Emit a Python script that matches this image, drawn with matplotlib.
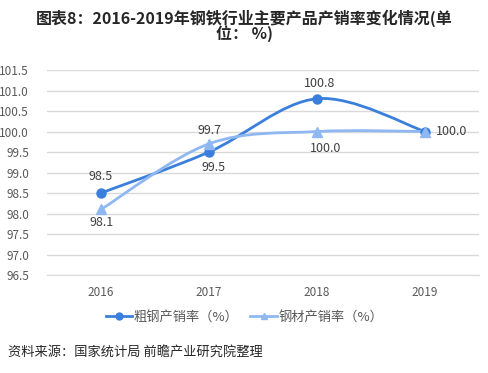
import numpy as np
import matplotlib
matplotlib.use('Agg')
import matplotlib.pyplot as plt
from matplotlib.path import Path
from matplotlib.patches import PathPatch
from matplotlib.lines import Line2D

plt.rcParams['font.family'] = ['Noto Sans CJK SC', 'DejaVu Sans']

years = ['2016', '2017', '2018', '2019']
crude_steel = [98.5, 99.5, 100.8, 100.0]
steel_products = [98.1, 99.7, 100.0, 100.0]
legend_labels = ['粗钢产销率（%）', '钢材产销率（%）']
title = '图表8：2016-2019年钢铁行业主要产品产销率变化情况(单\n位： %)'
source = '资料来源：国家统计局 前瞻产业研究院整理'

DARK = '#3b7fdc'
LIGHT = '#8fb8f2'
TEXT = '#404040'


def smooth_path(xs, ys):
    '''Bezier path through the points, Excel-like smoothing'''
    pts = np.column_stack([xs, ys]).astype(float)
    n = len(pts)
    verts = [pts[0]]
    codes = [Path.MOVETO]
    for i in range(n - 1):
        p0 = pts[max(i - 1, 0)]
        p1 = pts[i]
        p2 = pts[i + 1]
        p3 = pts[min(i + 2, n - 1)]
        c1 = p1 + (p2 - p0) / 6
        c2 = p2 - (p3 - p1) / 6
        verts += [c1, c2, p2]
        codes += [Path.CURVE4] * 3
    return Path(verts, codes)


fig = plt.figure(figsize=(4.89, 3.73), dpi=100)
ax = fig.add_axes([0.0961, 0.2627, 0.8835, 0.5496])

x = np.arange(len(years))
for vals, color, marker, ms in [(crude_steel, DARK, 'o', 6.5),
                                (steel_products, LIGHT, '^', 7)]:
    ax.add_patch(PathPatch(smooth_path(x, vals), facecolor='none',
                           edgecolor=color, lw=2, zorder=3))
    ax.plot(x, vals, linestyle='none', marker=marker, ms=ms,
            color=color, zorder=4)

lab = dict(textcoords='offset pixels', ha='center', va='center',
           fontsize=9, color=TEXT)
ax.annotate(f'{crude_steel[0]:.1f}', (0, crude_steel[0]), xytext=(0, 17), **lab)
ax.annotate(f'{crude_steel[1]:.1f}', (1, crude_steel[1]), xytext=(5, -15), **lab)
ax.annotate(f'{crude_steel[2]:.1f}', (2, crude_steel[2]), xytext=(3, 15), **lab)
ax.annotate(f'{crude_steel[3]:.1f}', (3, crude_steel[3]), xytext=(27, 0), **lab)
ax.annotate(f'{steel_products[0]:.1f}', (0, steel_products[0]), xytext=(1, -13), **lab)
ax.annotate(f'{steel_products[1]:.1f}', (1, steel_products[1]), xytext=(0, 13), **lab)
ax.annotate(f'{steel_products[2]:.1f}', (2, steel_products[2]), xytext=(9, -17),
            arrowprops=dict(arrowstyle='-', color='#a6a6a6', lw=0.8,
                            shrinkA=5, shrinkB=2), **lab)

ax.set_xlim(-0.5, 3.5)
ax.set_ylim(96.5, 101.5)
ax.set_yticks(np.arange(96.5, 101.51, 0.5))
ax.set_yticklabels([f'{v:.1f}' for v in np.arange(96.5, 101.51, 0.5)])
ax.set_xticks(x)
ax.set_xticklabels(years)
ax.tick_params(length=0, labelsize=8.5, labelcolor='#595959')
ax.tick_params(axis='x', pad=8)
ax.tick_params(axis='y', pad=13)
ax.grid(axis='y', color='#d9d9d9', lw=1)
ax.set_axisbelow(True)
for s in ax.spines.values():
    s.set_visible(False)
ax.spines['bottom'].set_visible(True)
ax.spines['bottom'].set_color('#d9d9d9')

handles = [Line2D([], [], color=DARK, lw=2, marker='o', ms=5),
           Line2D([], [], color=LIGHT, lw=2, marker='^', ms=5)]
fig.legend(handles, legend_labels, loc='center', bbox_to_anchor=(0.5, 0.15),
           ncol=2, frameon=False, fontsize=9.5, handlelength=2.0,
           handletextpad=0.1, columnspacing=0.9, labelcolor='#595959')

fig.text(0.5, 0.975, title, ha='center', va='top', fontsize=11.5,
         fontweight='bold', color='#262626', linespacing=0.9)
fig.text(0.016, 0.056, source, ha='left', va='center', fontsize=9.5,
         color='#262626')

fig.savefig('out.png', dpi=100, facecolor='white')
